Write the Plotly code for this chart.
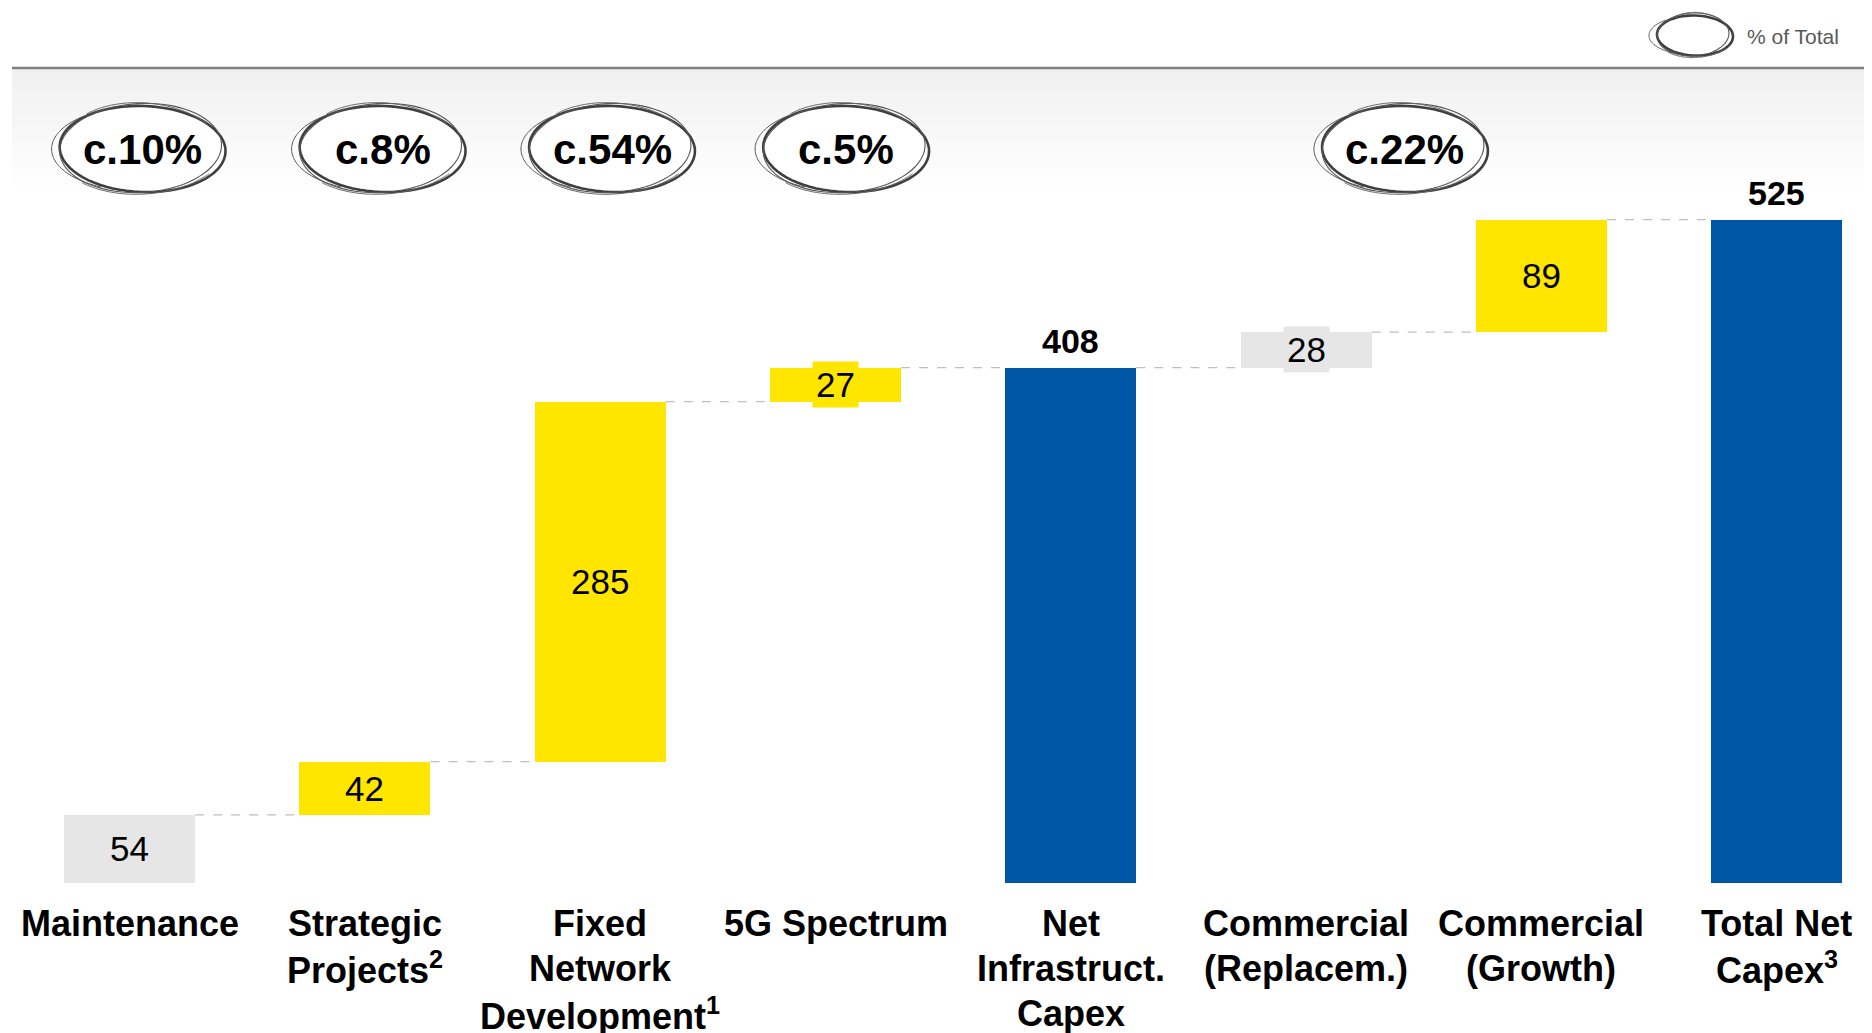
import math
import plotly.graph_objects as go

# ---------------- data ----------------
categories = [
    "Maintenance",
    "Strategic<br>Projects<sup>2</sup>",
    "Fixed<br>Network<br>Development<sup>1</sup>",
    "5G Spectrum",
    "Net<br>Infrastruct.<br>Capex",
    "Commercial<br>(Replacem.)",
    "Commercial<br>(Growth)",
    "Total Net<br>Capex<sup>3</sup>",
]
values = [54, 42, 285, 27, 408, 28, 89, 525]
measures = ["relative", "relative", "relative", "relative", "total", "relative", "relative", "total"]
kinds = ["replace", "growth", "growth", "growth", "total", "replace", "growth", "total"]
pct_labels = ["c.10%", "c.8%", "c.54%", "c.5%", "c.22%"]
legend_text = "% of Total"

# ---------------- styles / layout ----------------
pct_pos = [0.055, 1.075, 2.05, 3.045, 5.42]  # bubble centres, in category units
COLORS = {"replace": "#E6E6E6", "growth": "#FFE600", "total": "#0057A5"}
FONT = "Liberation Sans, Arial, Helvetica, sans-serif"
OFF = 8  # page body margin
W, H = 1872 - OFF, 1033 - OFF
PAGE_L, PAGE_B = 12, 883  # plot left / baseline in page pixels
ML = PAGE_L - OFF
MT = 0
PW = W - ML
PH = PAGE_B - OFF
MB = H - PH
SCALE = 1.2634  # px per unit
YMAX = PH / SCALE
CAT_PX = 235.3
XMAX = -0.5 + PW / CAT_PX


def pxx(p):
    return (p - PAGE_L) / PW


def pyy(p):
    return (PAGE_B - p) / PH


# compute bases from the data
bases, tops, running = [], [], 0
for v, m in zip(values, measures):
    if m == "total":
        bases.append(0)
        running = v
    else:
        bases.append(running)
        running += v
    tops.append(running)

x = list(range(len(values)))
fig = go.Figure()
fig.add_trace(go.Bar(
    x=x, y=values, base=bases, width=0.557,
    marker=dict(color=[COLORS[k] for k in kinds], line=dict(width=0)),
    hoverinfo="skip", showlegend=False,
))

shapes, annotations = [], []

# gradient band under the top rule
n_strips = 40
y0p, y1p = 68, 190
for i in range(n_strips):
    t = i / (n_strips - 1)
    c = int(240 + (255 - 240) * t)
    a = y0p + (y1p - y0p) * i / n_strips
    b = y0p + (y1p - y0p) * (i + 1) / n_strips
    shapes.append(dict(type="rect", xref="paper", yref="paper",
                       x0=0, x1=1, y0=pyy(b), y1=pyy(a),
                       fillcolor=f"rgb({c},{c},{c})", line=dict(width=0), layer="below"))
# top rule
shapes.append(dict(type="line", xref="paper", yref="paper", x0=0, x1=1,
                   y0=pyy(68), y1=pyy(68), line=dict(color="#808080", width=2.5)))

# connectors
for i in range(len(values) - 1):
    shapes.append(dict(type="line", xref="x", yref="y",
                       x0=i + 0.557 / 2, x1=i + 1 - 0.557 / 2, y0=tops[i], y1=tops[i],
                       line=dict(color="#BFBFBF", width=1.2, dash="dash"), layer="below"))


def ell_path(a, b, rot, dx=0, dy=0, t0=0, t1=360, n=72, close=True):
    r = math.radians(rot)
    pts = []
    for k in range(n + 1):
        t = math.radians(t0 + (t1 - t0) * k / n)
        ex, ey = a * math.cos(t), b * math.sin(t)
        pts.append((dx + ex * math.cos(r) - ey * math.sin(r),
                    dy + ex * math.sin(r) + ey * math.cos(r)))
    d = "M " + " L ".join(f"{p[0]:.1f},{p[1]:.1f}" for p in pts)
    return d + (" Z" if close else "")


def sketch_ellipse(xa, ya, xref, yref, a, b):
    common = dict(type="path", xref=xref, yref=yref, xsizemode="pixel", ysizemode="pixel",
                  xanchor=xa, yanchor=ya)
    shapes.append(dict(common, path=ell_path(a, b, -2), fillcolor="white",
                       line=dict(color="#3F3F3F", width=2.6)))
    shapes.append(dict(common, path=ell_path(a - 2, b + 1.5, 3, -2, 1),
                       line=dict(color="#555555", width=1.1)))
    shapes.append(dict(common, path=ell_path(a + 3, b - 1, 0, -5, 0, 125, 245, close=False),
                       line=dict(color="#555555", width=1.0)))
    shapes.append(dict(common, path=ell_path(a - 4, b + 2, -5, 2, 1, 40, 140, close=False),
                       line=dict(color="#666666", width=1.0)))
    shapes.append(dict(common, path=ell_path(a, b + 1, 4, 1, -1, 220, 320, close=False),
                       line=dict(color="#666666", width=1.0)))


# percent bubbles
bubble_y = (PAGE_B - 149) / SCALE
for lab, xa in zip(pct_labels, pct_pos):
    sketch_ellipse(xa, bubble_y, "x", "y", 83, 43)
    annotations.append(dict(x=xa, y=bubble_y, xref="x", yref="y", text=f"<b>{lab}</b>",
                            showarrow=False, font=dict(family=FONT, size=42, color="black"),
                            xanchor="center", yanchor="middle"))

# legend bubble
sketch_ellipse(pxx(1695), pyy(35.5), "paper", "paper", 38, 20)
annotations.append(dict(x=pxx(1745), y=pyy(36), xref="paper", yref="paper", text=legend_text,
                        showarrow=False, xanchor="left", yanchor="middle",
                        font=dict(family=FONT, size=21, color="#595959")))

# clipped title remnant
annotations.append(dict(x=pxx(34), y=pyy(13), xref="paper", yref="paper", text="CM",
                        showarrow=False, xanchor="left", yanchor="bottom",
                        font=dict(family=FONT, size=26, color="#8C8C8C")))

# value labels
for i, (v, m, k) in enumerate(zip(values, measures, kinds)):
    if m == "total":
        annotations.append(dict(x=i, y=tops[i], xref="x", yref="y", text=f"<b>{v}</b>",
                                showarrow=False, yanchor="middle", yshift=27,
                                font=dict(family=FONT, size=34, color="black")))
    else:
        ann = dict(x=i, y=bases[i] + v / 2, xref="x", yref="y", text=str(v),
                   showarrow=False, yanchor="middle",
                   font=dict(family=FONT, size=35, color="black"))
        if v * SCALE < 40:
            ann.update(bgcolor=COLORS[k], borderpad=3)
        annotations.append(ann)

# category labels (one annotation per line)
for i, lab in enumerate(categories):
    for j, line in enumerate(lab.split("<br>")):
        annotations.append(dict(x=i, y=0, xref="x", yref="paper", text=f"<b>{line}</b>",
                                showarrow=False, yanchor="middle", xanchor="center",
                                yshift=-(40 + 45.3 * j),
                                font=dict(family=FONT, size=36, color="black")))

fig.update_layout(
    width=W, height=H,
    margin=dict(l=ML, r=0, t=MT, b=MB, pad=0),
    paper_bgcolor="white", plot_bgcolor="rgba(0,0,0,0)",
    xaxis=dict(range=[-0.5, XMAX], visible=False, fixedrange=True),
    yaxis=dict(range=[0, YMAX], visible=False, fixedrange=True),
    shapes=shapes, annotations=annotations, bargap=0, showlegend=False,
)
fig.write_html("out.html", config={"displayModeBar": False})
